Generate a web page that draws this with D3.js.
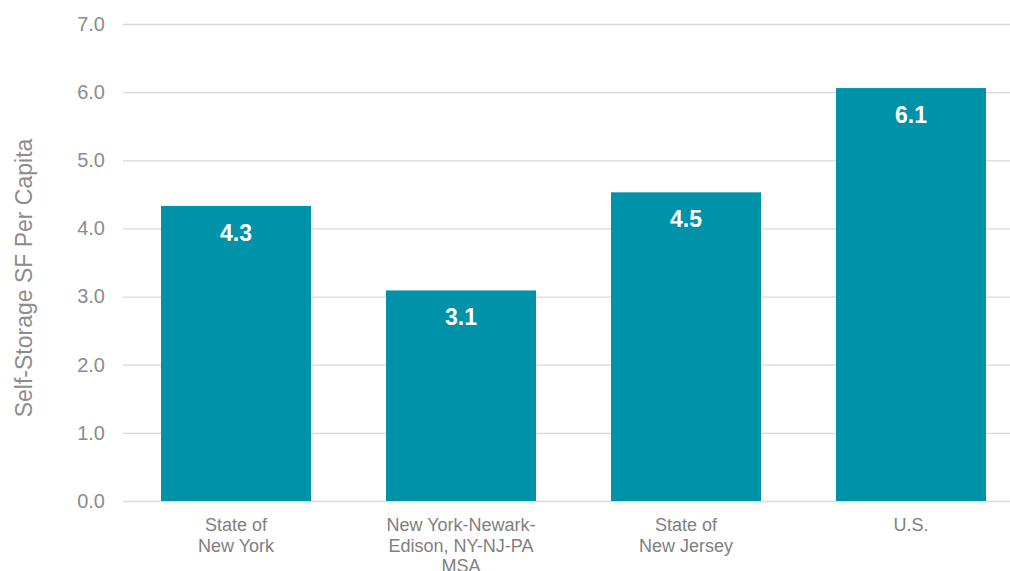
<!doctype html>
<html lang="en">
<head>
  <meta charset="utf-8">
  <title>Self-Storage SF Per Capita</title>
  <style>
    body { margin: 0; background: #fff; }
    svg { display: block; font-family: "Liberation Sans", Arial, sans-serif; }
  </style>
</head>
<body>
<svg id="chart" width="1010" height="571"></svg>

<script src="https://d3js.org/d3.v7.min.js"></script>
<script>
const categories = [
  ['State of', 'New York'],
  ['New York-Newark-', 'Edison, NY-NJ-PA', 'MSA'],
  ['State of', 'New Jersey'],
  ['U.S.'],
];
const values = [4.33, 3.09, 4.53, 6.06];
const yTicks = [0, 1, 2, 3, 4, 5, 6, 7];

const chart = d3.select('#chart');
const margin = { top: 24, left: 123 };
const height = 501 - margin.top;
const gridWidth = 1010 - margin.left;

const g = chart.append('g')
  .attr('transform', `translate(${margin.left} ${margin.top})`);

const x = d3.scaleBand()
  .domain(d3.range(values.length))
  .range([0.5, 900.5])
  .paddingInner(1 / 3)
  .paddingOuter(1 / 6);
const y = d3.scaleLinear().domain([0, 7]).range([height, 0]);

// gridlines + tick labels
const yAxis = g.append('g')
  .call(d3.axisLeft(y).tickValues(yTicks).tickFormat(d3.format('.1f'))
    .tickSize(-gridWidth).tickPadding(18));
yAxis.select('.domain').remove();
yAxis.selectAll('line').attr('stroke', '#d9d9d9').attr('stroke-width', 1.3);
yAxis.selectAll('text')
  .attr('fill', '#8c8c8c')
  .style('font-size', '20px')
  .attr('x', -18);

// bars
g.selectAll('rect.bar')
  .data(values)
  .join('rect')
  .attr('class', 'bar')
  .attr('x', (d, i) => x(i))
  .attr('y', d => y(d))
  .attr('width', x.bandwidth())
  .attr('height', d => height - y(d))
  .attr('fill', '#0092a8');

// value labels
g.selectAll('text.val')
  .data(values)
  .join('text')
  .attr('class', 'val')
  .attr('x', (d, i) => x(i) + x.bandwidth() / 2)
  .attr('y', d => y(d) + 35)
  .attr('text-anchor', 'middle')
  .attr('fill', '#fff')
  .style('font-size', '23px')
  .style('font-weight', 'bold')
  .text(d => d3.format('.1f')(d));

// category labels
const cat = g.selectAll('text.cat')
  .data(categories)
  .join('text')
  .attr('class', 'cat')
  .attr('text-anchor', 'middle')
  .attr('fill', '#808080')
  .style('font-size', '18px')
  .attr('transform', (d, i) => `translate(${x(i) + x.bandwidth() / 2} ${height + 30})`);
cat.selectAll('tspan')
  .data(d => d)
  .join('tspan')
  .attr('x', 0)
  .attr('y', (d, i) => i * 20.5)
  .text(d => d);

// y-axis title
chart.append('text')
  .attr('transform', 'translate(32 278) rotate(-90)')
  .attr('text-anchor', 'middle')
  .attr('fill', '#8c8c8c')
  .style('font-size', '23px')
  .text('Self-Storage SF Per Capita');
</script>
</body>
</html>
